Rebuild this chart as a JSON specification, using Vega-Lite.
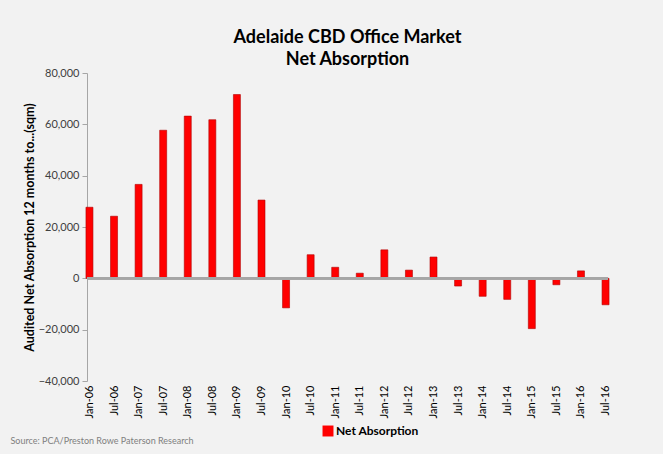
{
  "$schema": "https://vega.github.io/schema/vega-lite/v6.json",
  "autosize": "none",
  "width": 521,
  "height": 308,
  "padding": {"left": 87, "top": 73, "right": 55, "bottom": 73},
  "background": "#F2F2F2",
  "config": {"view": {"stroke": null}, "font": "Lato"},
  "title": {
    "text": ["Adelaide CBD Office Market", "Net Absorption"],
    "fontSize": 18,
    "fontWeight": "bold",
    "color": "#000000",
    "anchor": "middle",
    "offset": -2,
    "lineHeight": 22
  },
  "data": {
    "values": [
      {"month": "Jan-06", "value": 27700, "series": "Net Absorption"},
      {"month": "Jul-06", "value": 24200, "series": "Net Absorption"},
      {"month": "Jan-07", "value": 36600, "series": "Net Absorption"},
      {"month": "Jul-07", "value": 57700, "series": "Net Absorption"},
      {"month": "Jan-08", "value": 63200, "series": "Net Absorption"},
      {"month": "Jul-08", "value": 61800, "series": "Net Absorption"},
      {"month": "Jan-09", "value": 71600, "series": "Net Absorption"},
      {"month": "Jul-09", "value": 30500, "series": "Net Absorption"},
      {"month": "Jan-10", "value": -11500, "series": "Net Absorption"},
      {"month": "Jul-10", "value": 9200, "series": "Net Absorption"},
      {"month": "Jan-11", "value": 4300, "series": "Net Absorption"},
      {"month": "Jul-11", "value": 2000, "series": "Net Absorption"},
      {"month": "Jan-12", "value": 11100, "series": "Net Absorption"},
      {"month": "Jul-12", "value": 3200, "series": "Net Absorption"},
      {"month": "Jan-13", "value": 8300, "series": "Net Absorption"},
      {"month": "Jul-13", "value": -3000, "series": "Net Absorption"},
      {"month": "Jan-14", "value": -7000, "series": "Net Absorption"},
      {"month": "Jul-14", "value": -8200, "series": "Net Absorption"},
      {"month": "Jan-15", "value": -19600, "series": "Net Absorption"},
      {"month": "Jul-15", "value": -2500, "series": "Net Absorption"},
      {"month": "Jan-16", "value": 2900, "series": "Net Absorption"},
      {"month": "Jul-16", "value": -10300, "series": "Net Absorption"}
    ]
  },
  "layer": [
    {
      "mark": {"type": "bar", "size": 7, "stroke": "#B00000", "strokeWidth": 0.6},
      "encoding": {
        "x": {
          "field": "month",
          "type": "ordinal",
          "sort": null,
          "scale": {"type": "point", "padding": 0.1},
          "axis": {
            "title": "Source: PCA/Preston Rowe Paterson Research",
            "titleX": -77,
            "titleY": 62,
            "titleAlign": "left",
            "titleAnchor": "start",
            "titleBaseline": "alphabetic",
            "titleFontSize": 9,
            "titleFontWeight": "normal",
            "titleColor": "#808080",
            "labelAngle": -90,
            "labelAlign": "right",
            "labelBaseline": "middle",
            "labelFontSize": 11,
            "labelColor": "#000000",
            "labelPadding": 4,
            "domain": false,
            "ticks": false
          }
        },
        "y": {
          "field": "value",
          "type": "quantitative",
          "scale": {"domain": [-40000, 80000], "nice": false},
          "axis": {
            "values": [-40000, -20000, 0, 20000, 40000, 60000, 80000],
            "format": ",d",
            "title": "Audited Net Absorption 12 months to...(sqm)",
            "titleFontSize": 12.5,
            "titleFontWeight": "bold",
            "titleColor": "#000000",
            "titlePadding": 2,
            "labelFontSize": 11,
            "labelColor": "#404040",
            "labelPadding": 3,
            "grid": false,
            "domainColor": "#A6A6A6",
            "tickColor": "#A6A6A6",
            "tickSize": 5
          }
        },
        "color": {
          "field": "series",
          "type": "nominal",
          "scale": {"range": ["#FF0000"]},
          "legend": {
            "title": null,
            "orient": "none",
            "legendX": 235,
            "legendY": 352,
            "symbolType": "square",
            "symbolSize": 120,
            "symbolStrokeWidth": 0,
            "labelFontSize": 12,
            "labelFontWeight": "bold",
            "labelColor": "#000000",
            "labelOffset": 2
          }
        }
      }
    },
    {
      "mark": {"type": "rule", "color": "#A6A6A6", "strokeWidth": 2},
      "encoding": {"y": {"datum": 0}}
    }
  ]
}
